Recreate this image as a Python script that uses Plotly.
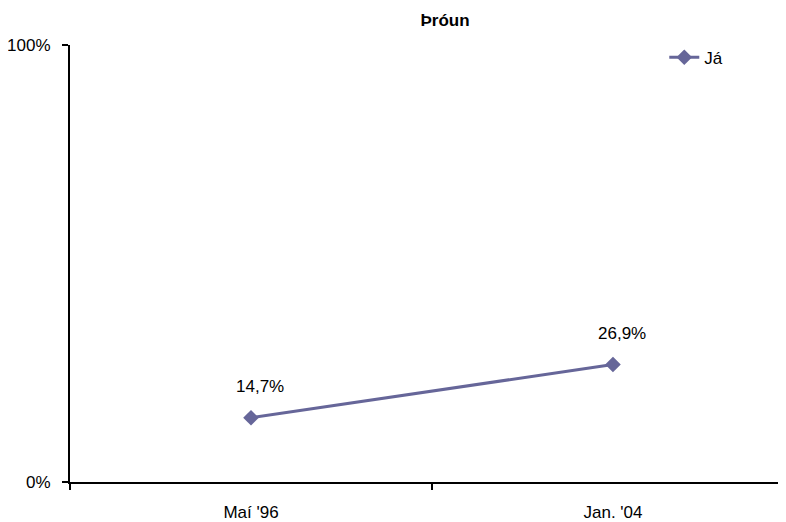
import plotly.graph_objects as go

categories = ["Maí '96", "Jan. '04"]
values = [14.7, 26.9]
labels = ["14,7%", "26,9%"]
series_name = "Já"
y_ticks = [0, 100]
y_ticktext = ["0%", "100%"]

FONT = "Liberation Sans, Arial, sans-serif"
xpos = list(range(len(categories)))
COLOR = "#666699"

fig = go.Figure()
fig.add_trace(go.Scatter(
    x=xpos, y=values, mode="lines+markers", name=series_name,
    line=dict(color=COLOR, width=3),
    marker=dict(symbol="diamond", size=12, color=COLOR),
    cliponaxis=False,
))

for xv, yv, t in zip(xpos, values, labels):
    fig.add_annotation(x=xv, y=yv, text=t, showarrow=False, xshift=9, yshift=31,
                       font=dict(family=FONT, size=17, color="#000"))

# The page body adds an 8px offset; figure is sized to fill the rest of the window.
fig.update_layout(
    width=778, height=514,
    margin=dict(l=62, r=0, t=37, b=40),
    paper_bgcolor="white", plot_bgcolor="white",
    title=dict(text="<b>Þróun</b>", x=0.5617, xanchor="center", y=0.977, yanchor="middle",
               font=dict(family=FONT, size=17, color="#000")),
    font=dict(family=FONT, size=17, color="#000"),
    showlegend=True,
    legend=dict(x=0.83, y=1.012, xanchor="left", yanchor="top", bgcolor="rgba(0,0,0,0)",
                font=dict(family=FONT, size=17)),
    xaxis=dict(range=[-0.5, 1.478], tickmode="array", tickvals=xpos, ticktext=categories,
               ticks="", showgrid=False, zeroline=False, showline=True, linecolor="#000", linewidth=2,
               ticklabelstandoff=14, automargin=False,
               minor=dict(tickmode="array", tickvals=[-0.5, 0.5], ticks="outside", ticklen=6,
                          tickcolor="#000", tickwidth=2, showgrid=False),
               tickfont=dict(family=FONT, size=17)),
    yaxis=dict(range=[0, 100], tickmode="array", tickvals=y_ticks, ticktext=y_ticktext,
               ticks="outside", ticklen=6, tickwidth=2, tickcolor="#000",
               ticklabelstandoff=8, automargin=False,
               showgrid=False, zeroline=False, showline=True, linecolor="#000", linewidth=2,
               tickfont=dict(family=FONT, size=17)),
)

fig.write_html("out.html")
